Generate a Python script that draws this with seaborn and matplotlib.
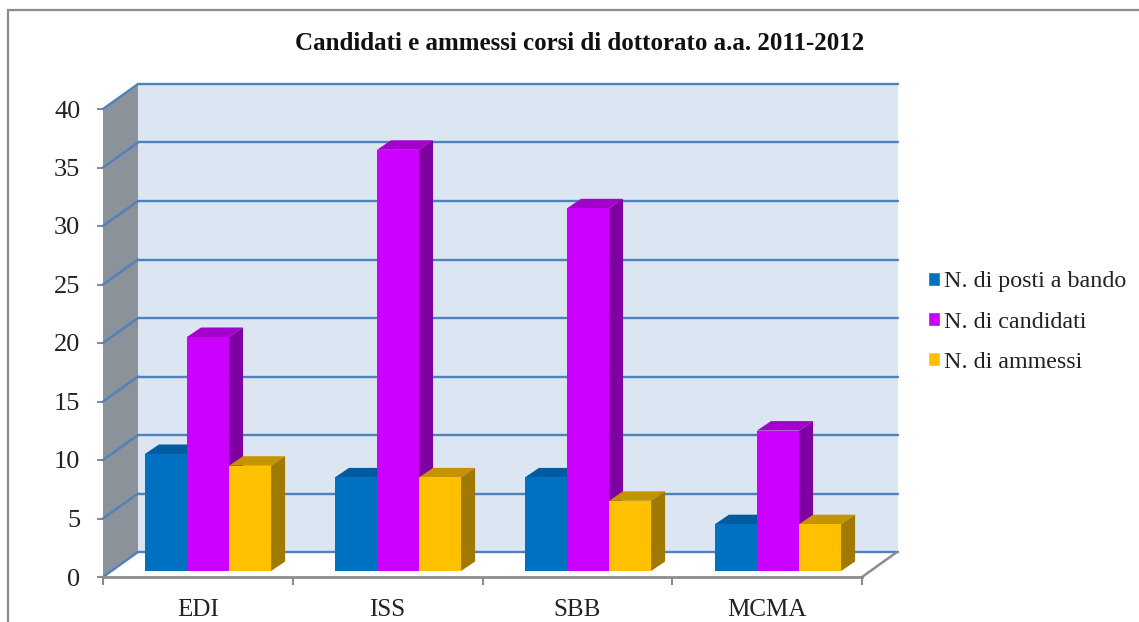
import matplotlib
matplotlib.use('Agg')
import matplotlib.pyplot as plt
from matplotlib.lines import Line2D
from matplotlib.patches import Polygon
import pandas as pd
import seaborn as sns

# dati
corsi = ['EDI', 'ISS', 'SBB', 'MCMA']
posti = [10, 8, 8, 4]
candidati = [20, 36, 31, 12]
ammessi = [9, 8, 6, 4]
serie = ['N. di posti a bando', 'N. di candidati', 'N. di ammessi']
titolo = 'Candidati e ammessi corsi di dottorato a.a. 2011-2012'

colori = ['#0070c0', '#cc00ff', '#ffc000']
colori_top = ['#005c9e', '#a400cc', '#c49400']
colori_lato = ['#004f86', '#7f00a0', '#a07a00']
GRID = '#4f81bd'
GRIGIO = '#8c8c8c'
W, H = 1139, 622

sns.set_style('white')
plt.rcParams['font.family'] = ['Liberation Serif', 'DejaVu Serif']

df = pd.DataFrame({
    'corso': corsi * 3,
    'serie': [serie[0]] * 4 + [serie[1]] * 4 + [serie[2]] * 4,
    'valore': posti + candidati + ammessi,
})


def asse(fig, x0, x1, y_top, y_bot):  # assi in pixel dell'immagine
    return fig.add_axes([x0 / W, 1 - y_bot / H, (x1 - x0) / W, (y_bot - y_top) / H])


fig = plt.figure(figsize=(W / 100, H / 100), dpi=100, facecolor='white')

# parete di fondo
back = asse(fig, 138, 898, 84, 552)
back.set_facecolor('#dce6f2')
back.set_xlim(-0.5, 3.5)
back.set_ylim(0, 40)
back.set_xticks([])
back.set_yticks(range(0, 45, 5))
back.set_yticklabels([])
back.tick_params(length=0)
back.grid(axis='y', color=GRID, lw=1.7)
for g in back.get_ygridlines():
    g.set_clip_on(False)
sns.despine(ax=back, left=True, bottom=True)

# piano frontale con le scale
ax = asse(fig, 103, 862, 109, 577)
ax.patch.set_visible(False)
ax.set_xlim(-0.5, 3.5)
ax.set_ylim(0, 40)
ax.set_yticks(range(0, 45, 5))
ax.set_xticks([-0.5, 0.5, 1.5, 2.5, 3.5])
ax.set_xticklabels([])
ax.set_xticks(range(4), labels=corsi, minor=True)
ax.tick_params(axis='y', labelsize=19, length=4.3, width=1.5, color=GRIGIO, pad=12, labelcolor='#222222', left=True)
ax.tick_params(axis='x', which='major', length=6, width=1.5, color=GRIGIO, bottom=True)
ax.tick_params(axis='x', which='minor', labelsize=18, length=0, pad=16, labelcolor='#222222', bottom=False)
sns.despine(ax=ax, left=True)
ax.spines['bottom'].set_color(GRIGIO)
ax.spines['bottom'].set_linewidth(2)

# parete laterale e pavimento
dx = 35 / (759 / 4)
dy = 25 / (468 / 40)
ax.add_patch(Polygon([(-0.5, 0), (-0.5, 40), (-0.5 + dx, 40 + dy), (-0.5 + dx, dy)],
                     closed=True, fc='#8c9299', ec='none', clip_on=False))
for t in range(0, 45, 5):
    ax.plot([-0.5, -0.5 + dx], [t, t + dy], color=GRID, lw=1.7, clip_on=False)
ax.plot([3.5, 3.5 + dx], [0, dy], color=GRIGIO, lw=1.8, clip_on=False)

# barre
bars = asse(fig, 113, 873, 103, 571)
sns.barplot(data=df, x='corso', y='valore', hue='serie', palette=colori, saturation=1,
            width=0.664, gap=0, ax=bars)
bars.set_xlim(-0.5, 3.5)
bars.set_ylim(0, 40)
bars.axis('off')

# facce 3D delle barre
bx = 14 / (759 / 4)
by = 9.5 / (468 / 40)
for i, cont in enumerate(bars.containers):
    for p in cont:
        x0, x1, h = p.get_x(), p.get_x() + p.get_width(), p.get_height()
        p.set_linewidth(0)
        p.set_zorder(3 + 2 * i)
        bars.add_patch(Polygon([(x0, h), (x1, h), (x1 + bx, h + by), (x0 + bx, h + by)],
                               closed=True, fc=colori_top[i], ec='none', zorder=2 + 2 * i))
        bars.add_patch(Polygon([(x1, 0), (x1, h), (x1 + bx, h + by), (x1 + bx, by)],
                               closed=True, fc=colori_lato[i], ec='none', zorder=2 + 2 * i))

sns.move_legend(bars, loc='center left', bbox_to_anchor=(906 / W, 1 - 322 / H),
                bbox_transform=fig.transFigure, title=None, frameon=False, fontsize=17.3,
                handlelength=0.5, handleheight=0.5, handletextpad=0.17, labelspacing=0.8,
                labelcolor='#222222')

fig.text(580 / W, 1 - 43 / H, titolo, ha='center', va='center', fontsize=18,
         fontweight='bold', color='#111111')

# cornice esterna
fig.add_artist(Line2D([8 / W, 8 / W], [0, 1 - 10 / H], color=GRIGIO, lw=1.6))
fig.add_artist(Line2D([8 / W, 1], [1 - 10 / H, 1 - 10 / H], color=GRIGIO, lw=1.6))

fig.savefig('out.png', dpi=100)
